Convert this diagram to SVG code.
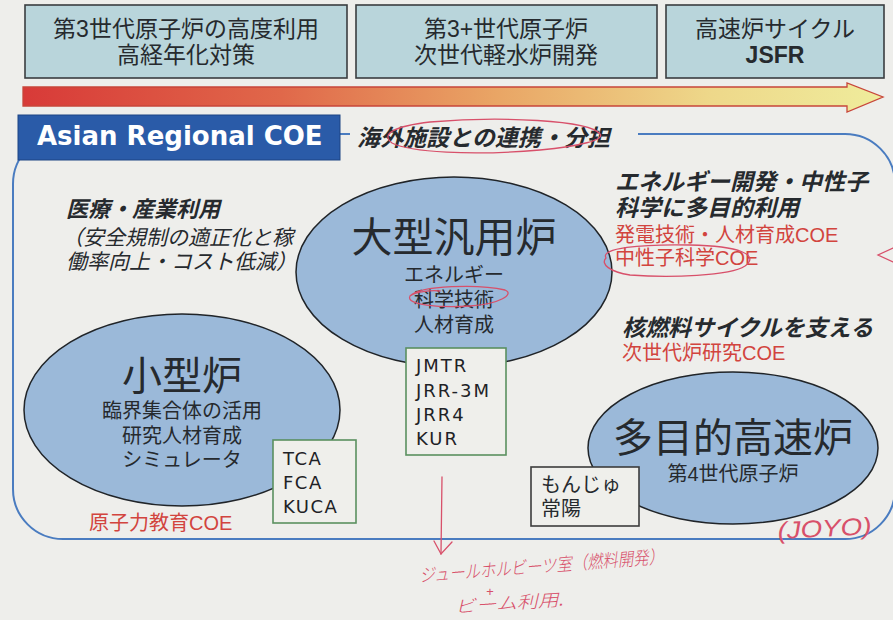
<svg xmlns="http://www.w3.org/2000/svg" width="893" height="620" viewBox="0 0 893 620">
  <defs>
    <linearGradient id="flow" x1="0" y1="0" x2="1" y2="0">
      <stop offset="0" stop-color="#d83a38"/>
      <stop offset="0.3" stop-color="#e0684a"/>
      <stop offset="0.55" stop-color="#e9a565"/>
      <stop offset="0.8" stop-color="#eed88a"/>
      <stop offset="1" stop-color="#efec9c"/>
    </linearGradient>
    <style>
      .jp { font-family: "Liberation Sans", "Noto Sans CJK JP", sans-serif; fill: #262a2e; }
      .lat { font-family: "DejaVu Sans", "Noto Sans", sans-serif; fill: #1e2226; }
      .topbox { fill: #b9d5db; stroke: #3a3d40; stroke-width: 1.6; }
      .ell { fill: #9bb9d9; stroke: #202428; stroke-width: 1.5; }
      .gbox { fill: #efefeb; stroke: #5a9060; stroke-width: 1.6; }
      .kbox { fill: #efefeb; stroke: #3c3c3c; stroke-width: 1.6; }
      .it { font-style: italic; font-weight: bold; }
      .red { fill: #d2443e; }
      .hand { fill: none; stroke: #d8506a; stroke-width: 1.3; stroke-linecap: round; }
      .handtxt { font-family: "Liberation Sans", "Noto Sans CJK JP", sans-serif; fill: #d8506a; font-weight: 300; font-style: italic; }
    </style>
  </defs>

  <rect x="0" y="0" width="893" height="620" fill="#eeeeeb"/>

  <!-- top era boxes -->
  <g id="era1">
    <rect class="topbox" x="25" y="5" width="322" height="73"/>
    <text class="jp" x="186" y="37" font-size="23" text-anchor="middle">第3世代原子炉の高度利用</text>
    <text class="jp" x="186" y="63" font-size="23" text-anchor="middle">高経年化対策</text>
  </g>
  <g id="era2">
    <rect class="topbox" x="356" y="5" width="301" height="73"/>
    <text class="jp" x="506" y="37" font-size="23" text-anchor="middle">第3+世代原子炉</text>
    <text class="jp" x="506" y="63" font-size="23" text-anchor="middle">次世代軽水炉開発</text>
  </g>
  <g id="era3">
    <rect class="topbox" x="666" y="5" width="218" height="73"/>
    <text class="jp" x="775" y="37" font-size="23" text-anchor="middle">高速炉サイクル</text>
    <text class="jp" x="775" y="63" font-size="23" text-anchor="middle" font-weight="bold">JSFR</text>
  </g>

  <!-- timeline arrow -->
  <g id="timeline">
    <path d="M23,87 L847,87 L847,83 L883,97 L847,112 L847,106 L23,106 Z" fill="url(#flow)" stroke="#c8463a" stroke-width="1.3"/>
  </g>

  <!-- regional frame -->
  <g id="frame">
    <rect x="13" y="134" width="882" height="405" rx="50" ry="50" fill="none" stroke="#4a7cc0" stroke-width="2"/>
    <rect x="350" y="118" width="288" height="34" fill="#eeeeeb"/>
  </g>

  <g id="coe-title">
    <rect x="18" y="115" width="322" height="45" fill="#2a5ba8" stroke="#1c4484" stroke-width="1"/>
    <text x="37" y="145" font-family="DejaVu Sans, sans-serif" font-weight="bold" font-size="26" fill="#ffffff">Asian Regional COE</text>
  </g>
  <g id="coe-note">
    <text class="jp it" x="357" y="146" font-size="23">海外施設との連携・分担</text>
  </g>

  <!-- left note -->
  <g id="note-medical">
    <text class="jp it" x="66" y="217" font-size="22">医療・産業利用</text>
    <text class="jp" x="62" y="245" font-size="21" font-style="italic">（安全規制の適正化と稼</text>
    <text class="jp" x="66" y="269" font-size="21" font-style="italic">働率向上・コスト低減）</text>
  </g>

  <!-- right notes -->
  <g id="note-energy">
    <text class="jp it" x="615" y="190" font-size="23">エネルギー開発・中性子</text>
    <text class="jp it" x="615" y="216" font-size="23">科学に多目的利用</text>
    <text class="jp red" x="615" y="242" font-size="20">発電技術・人材育成COE</text>
    <text class="jp red" x="615" y="265" font-size="20">中性子科学COE</text>
  </g>
  <g id="note-cycle">
    <text class="jp it" x="622" y="336" font-size="23">核燃料サイクルを支える</text>
    <text class="jp red" x="622" y="360" font-size="20">次世代炉研究COE</text>
  </g>

  <!-- large reactor -->
  <g id="large-reactor">
    <ellipse class="ell" cx="454" cy="272" rx="158" ry="95"/>
    <text class="jp" x="454" y="252" font-size="41" text-anchor="middle">大型汎用炉</text>
    <text class="jp" x="454" y="282" font-size="20" text-anchor="middle">エネルギー</text>
    <text class="jp" x="454" y="307" font-size="20" text-anchor="middle">科学技術</text>
    <text class="jp" x="454" y="332" font-size="20" text-anchor="middle">人材育成</text>
  </g>
  <g id="large-facilities">
    <rect class="gbox" x="406" y="348" width="100" height="107"/>
    <text class="lat" x="416" y="372" font-size="18" letter-spacing="2">JMTR</text>
    <text class="lat" x="416" y="397" font-size="18" letter-spacing="2">JRR-3M</text>
    <text class="lat" x="416" y="421" font-size="18" letter-spacing="2">JRR4</text>
    <text class="lat" x="416" y="445" font-size="18" letter-spacing="2">KUR</text>
  </g>

  <!-- small reactor -->
  <g id="small-reactor">
    <ellipse class="ell" cx="182" cy="410" rx="158" ry="96"/>
    <text class="jp" x="182" y="390" font-size="40" text-anchor="middle">小型炉</text>
    <text class="jp" x="182" y="418" font-size="20" text-anchor="middle">臨界集合体の活用</text>
    <text class="jp" x="182" y="443" font-size="20" text-anchor="middle">研究人材育成</text>
    <text class="jp" x="182" y="467" font-size="20" text-anchor="middle">シミュレータ</text>
  </g>
  <g id="small-facilities">
    <rect class="gbox" x="273" y="440" width="83" height="83"/>
    <text class="lat" x="283" y="465" font-size="18" letter-spacing="1.5">TCA</text>
    <text class="lat" x="283" y="489" font-size="18" letter-spacing="1.5">FCA</text>
    <text class="lat" x="283" y="513" font-size="18" letter-spacing="1.5">KUCA</text>
  </g>
  <g id="note-education">
    <text class="jp red" x="89" y="530" font-size="20">原子力教育COE</text>
  </g>

  <!-- fast reactor -->
  <g id="fast-reactor">
    <ellipse class="ell" cx="733" cy="448" rx="145" ry="76"/>
    <text class="jp" x="733" y="452" font-size="40" text-anchor="middle">多目的高速炉</text>
    <text class="jp" x="733" y="481" font-size="20" text-anchor="middle">第4世代原子炉</text>
  </g>
  <g id="fast-facilities">
    <rect class="kbox" x="531" y="467" width="108" height="59"/>
    <text class="jp" x="541" y="492" font-size="20">もんじゅ</text>
    <text class="jp" x="541" y="516" font-size="20">常陽</text>
  </g>

  <!-- connectors -->
  <g id="connectors">
    <path class="hand" d="M442,477 L441,554"/>
    <path class="hand" d="M434,541 L441,554 L452,542"/>
    <path class="hand" d="M893,248 L878,255 L893,262"/>
  </g>

  <!-- handwritten annotations -->
  <g id="handwriting">
    <path class="hand" d="M600,134 C590,120 500,116 430,122 C395,126 380,134 392,143 C410,152 470,156 540,150 C580,146 605,140 600,134"/>
    <path class="hand" d="M410,296 C420,285 480,284 505,290 C515,294 500,304 470,306 C440,308 405,305 410,296 C415,292 430,290 440,291"/>
    <path class="hand" d="M606,258 C600,248 640,244 690,245 C740,246 760,255 745,266 C730,276 670,278 630,275 C610,272 600,264 606,258"/>
    <text class="handtxt" x="420" y="582" font-size="18" textLength="245" lengthAdjust="spacingAndGlyphs" transform="rotate(-4.5 420 582)">ジュールホルビーツ室（燃料開発）</text>
    <text class="handtxt" x="486" y="596" font-size="13">+</text>
    <text class="handtxt" x="455" y="613" font-size="17" textLength="110" lengthAdjust="spacingAndGlyphs" transform="rotate(-4 455 613)">ビーム利用.</text>
    <text class="handtxt" x="778" y="539" font-size="24" textLength="94" lengthAdjust="spacingAndGlyphs" transform="rotate(-3 778 539)">(JOYO)</text>
  </g>
</svg>
